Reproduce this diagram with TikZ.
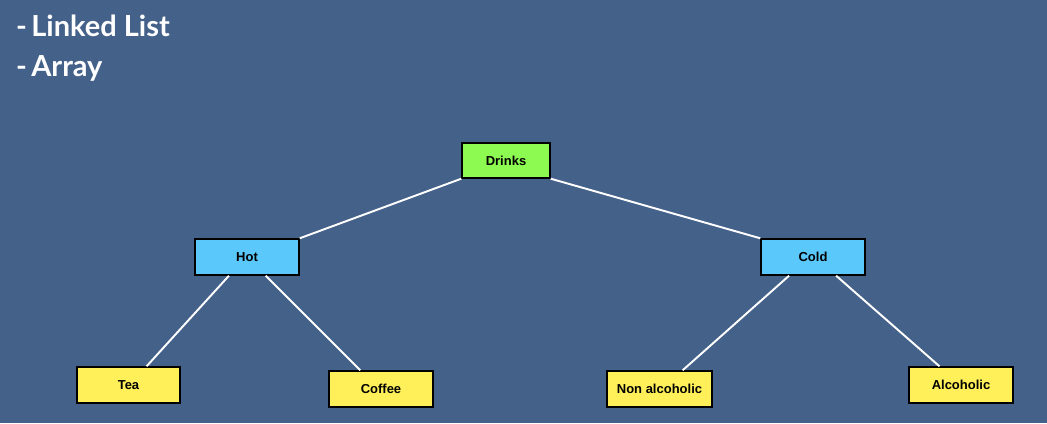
\documentclass[tikz,border=0pt]{standalone}
\usepackage{fontspec}
\setmainfont{Liberation Sans}
\newfontfamily\titlefont{Lato}
\usepackage{xcolor}
\usetikzlibrary{positioning}

\definecolor{slide_bg}{HTML}{44618A}
\definecolor{root_green}{HTML}{8CFA50}
\definecolor{mid_blue}{HTML}{5AC8FA}
\definecolor{leaf_yellow}{HTML}{FFF05A}

\begin{document}
\begin{tikzpicture}[x=0.02cm, y=-0.02cm,
    treebox/.style={draw=black, line width=0.8pt, minimum width=104*0.02cm, minimum height=36*0.02cm,
        inner sep=0pt, font=\fontsize{7.4}{8}\selectfont\bfseries},
    branch/.style={draw=white, line width=1.1pt},
    bullet/.style={anchor=base west, text=white, font=\titlefont\fontsize{16.5}{18}\selectfont\bfseries}]

    % Background
    \fill[slide_bg] (0,0) rectangle (1047,423);
    \useasboundingbox (0,0) rectangle (1047,423);

    % Heading
    \node[bullet] (title_list) at (10,36) {-\hspace{0.15em}Linked List};
    \node[bullet] (title_array) at (10,76) {-\hspace{0.15em}Array};

    % Root
    \node[treebox, fill=root_green, minimum width=88*0.02cm, minimum height=35*0.02cm] (drinks) at (506,160.5) {Drinks};

    % Middle level
    \node[treebox, fill=mid_blue] (hot) at (247,257) {Hot};
    \node[treebox, fill=mid_blue] (cold) at (813,257) {Cold};

    % Leaves
    \node[treebox, fill=leaf_yellow, minimum width=103*0.02cm] (tea) at (128.5,385) {Tea};
    \node[treebox, fill=leaf_yellow] (coffee) at (381,389) {Coffee};
    \node[treebox, fill=leaf_yellow, minimum width=105*0.02cm] (non_alcoholic) at (659.5,389) {Non alcoholic};
    \node[treebox, fill=leaf_yellow] (alcoholic) at (961,385) {Alcoholic};

    % Branches
    \draw[branch] (drinks.south west) -- (hot.north east);
    \draw[branch] (drinks.south east) -- (cold.north west);
    \draw[branch] (hot.226) -- (tea.46);
    \draw[branch] (hot.315) -- (coffee.138);
    \draw[branch] (cold.218) -- (non_alcoholic.39);
    \draw[branch] (cold.321) -- (alcoholic.139);

\end{tikzpicture}
\end{document}
